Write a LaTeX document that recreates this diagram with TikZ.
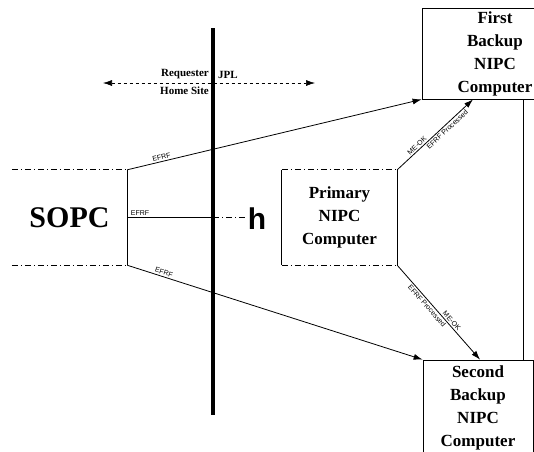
\documentclass[tikz,border=0pt]{standalone}
\usepackage{fontspec}
\setmainfont{Liberation Serif}
\newfontfamily\labelfont{Liberation Sans}
\usetikzlibrary{arrows.meta}

\begin{document}
\begin{tikzpicture}[x=1pt,y=-1pt]
    \tikzstyle{nipc}=[rectangle, inner sep=0pt, align=center, font=\bfseries\fontsize{17}{23}\selectfont]
    \tikzstyle{flow}=[-{Latex[length=9pt,width=6pt]}, line width=0.8pt]
    \tikzstyle{tag}=[font=\labelfont\fontsize{7}{7}\selectfont, sloped, inner sep=1.5pt]
    \tikzstyle{rim}=[dash pattern=on 6pt off 3pt on 1pt off 3pt, line width=0.7pt]
    \tikzstyle{site}=[font=\bfseries\fontsize{11}{11}\selectfont, inner sep=1pt]
    \useasboundingbox (0,0) rectangle (534,451);
    \clip (0,0) rectangle (534,451);

    \node[nipc, minimum width=115pt, minimum height=95pt, font=\bfseries\fontsize{30}{30}\selectfont] (sopc) at (69.5,217.5) {SOPC};
    \node[nipc, minimum width=115pt, minimum height=95pt] (primary) at (339.5,217.5) {Primary\\NIPC\\Computer};
    \node[nipc, draw, line width=0.8pt, minimum width=146pt, minimum height=91pt] (first) at (495,53.5) {First\\Backup\\NIPC\\Computer};
    \node[nipc, draw, line width=0.8pt, minimum width=110pt, minimum height=95pt] (second) at (478,407.5) {Second\\Backup\\NIPC\\Computer};

    \draw[rim] (sopc.north west) -- (sopc.north east);
    \draw[rim] (sopc.south west) -- (sopc.south east);
    \draw[line width=0.8pt] (sopc.north east) -- (sopc.south east);
    \draw[rim] (primary.north west) -- (primary.north east);
    \draw[rim] (primary.south west) -- (primary.south east);
    \draw[line width=0.8pt] (primary.north west) -- (primary.south west);
    \draw[line width=0.8pt] (primary.north east) -- (primary.south east);

    \coordinate (wtop) at (213,28);
    \coordinate (wbot) at (213,415);
    \draw[line width=3.5pt] (wtop) -- (wbot);

    \coordinate (homel) at (103,83);
    \coordinate (homer) at (315,83);
    \draw[{Latex[length=9pt,width=6pt]}-{Latex[length=9pt,width=6pt]}, dashed, line width=0.6pt] (homel) -- (homer);
    \node[site, anchor=south east] (req) at (210,80) {Requester};
    \node[site, anchor=south west] (jpl) at (217,80) {JPL};
    \node[site, anchor=north east] (home) at (210,86) {Home Site};

    \draw[flow] (sopc.north east) -- node[tag, above, pos=0.12] {EFRF} (first.south west);
    \draw[flow] (sopc.south east) -- node[tag, above, pos=0.12] {EFRF} (second.north west);

    \coordinate (cross) at (sopc.east -| wtop);
    \coordinate (stub) at (246,217.5);
    \draw[line width=0.8pt] (sopc.east) -- node[tag, above, pos=0.15] {EFRF} (cross);
    \draw[rim] (cross) -- (stub);
    \node[font=\labelfont\bfseries\fontsize{30}{30}\selectfont, inner sep=0pt] (hmark) at (257,219) {h};

    \draw[flow] (primary.north east) -- node[tag, above, pos=0.3] {ME-OK} node[tag, below, pos=0.62] {EFRF Processed} ([xshift=-22pt]first.south);
    \draw[flow] (primary.south east) -- node[tag, above, pos=0.62] {ME-OK} node[tag, below, pos=0.4] {EFRF Processed} ([xshift=2pt]second.north);
    \draw[line width=0.8pt] ([xshift=28pt]first.south) -- ([xshift=45pt]second.north);
\end{tikzpicture}
\end{document}
